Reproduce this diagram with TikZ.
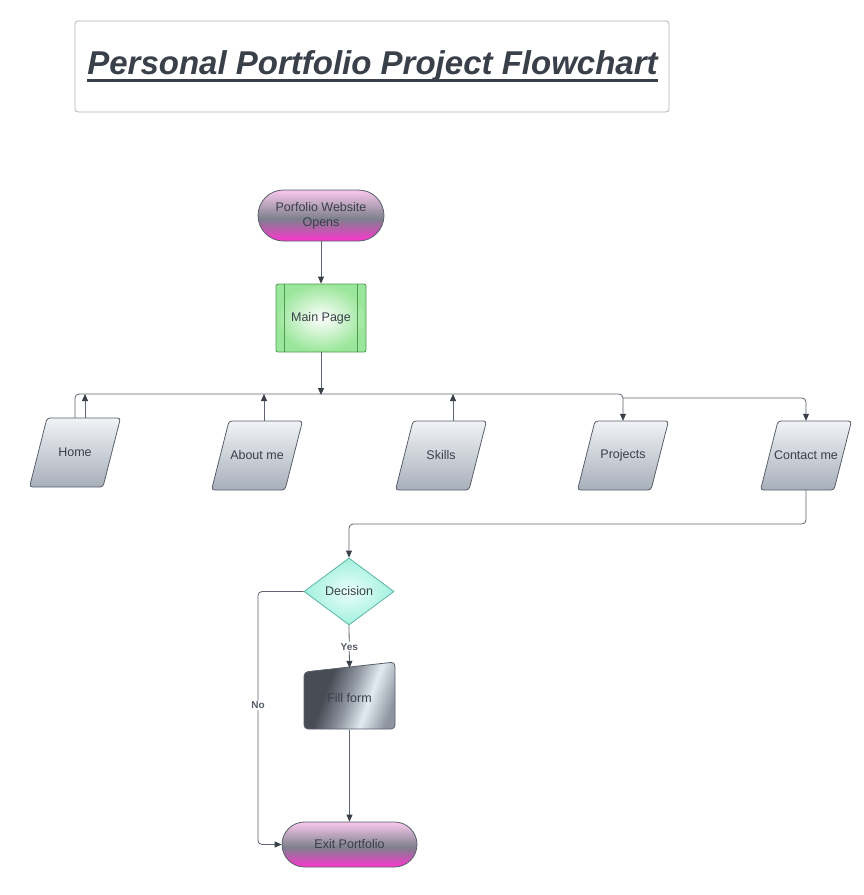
\documentclass[tikz,border=0pt]{standalone}
\usepackage{fontspec}
\setmainfont{Liberation Sans}
\usetikzlibrary{arrows.meta,shapes.geometric}
\definecolor{txt}{HTML}{3A4049}
\definecolor{lnc}{HTML}{5E6571}
\definecolor{pT}{HTML}{F2C4E8}
\definecolor{pM}{HTML}{7D808C}
\definecolor{pB}{HTML}{F03DC8}
\definecolor{mA}{HTML}{474C55}
\definecolor{mB}{HTML}{9097A0}
\definecolor{mC}{HTML}{E2EAF2}
\definecolor{mD}{HTML}{8E959E}
\definecolor{gOut}{HTML}{9AE69A}
\definecolor{gBd}{HTML}{4E9A4E}
\definecolor{cIn}{HTML}{EAFFFB}
\definecolor{cOut}{HTML}{A2F0DE}
\definecolor{cBd}{HTML}{5BB5A5}
\definecolor{parT}{HTML}{F1F3F6}
\definecolor{parB}{HTML}{A7AFBA}
\definecolor{bd}{HTML}{5A606B}
\definecolor{lblc}{HTML}{555B66}
\pgfdeclareverticalshading{pinkgrey}{100bp}{color(0bp)=(pB); color(27bp)=(pB); color(47bp)=(pM); color(73bp)=(pT); color(100bp)=(pT)}
\pgfdeclarehorizontalshading{metal}{100bp}{color(0bp)=(mA); color(36bp)=(mA); color(50bp)=(mB); color(62bp)=(mC); color(76bp)=(mD); color(100bp)=(mD)}
\newcommand\paranode[4]{%
  \shadedraw[top color=parT, bottom color=parB, draw=bd, line width=0.8pt, rounded corners=3pt]
    (#2-28,#3-34.5) -- (#2+45.5,#3-34.5) -- (#2+28,#3+34.5) -- (#2-45.5,#3+34.5) -- cycle;
  \node[minimum width=74pt, minimum height=69pt, inner sep=0] (#1) at (#2,#3) {#4};}
\begin{document}
\begin{tikzpicture}[x=1pt,y=-1pt,
  every node/.style={text=txt, font=\fontsize{12.5}{15}\selectfont},
  conn/.style={draw=lnc, line width=0.8pt},
  arr/.style={-{Triangle[length=7pt,width=6pt,color=txt]}},
  pinknode/.style={shade, shading=pinkgrey, draw=bd, line width=0.8pt, align=center, inner sep=0},
  lbl/.style={font=\fontsize{10}{11}\selectfont\bfseries, text=lblc, fill=white, inner sep=1pt}]
\useasboundingbox (0,0) rectangle (864,895);
\fill[white] (0,0) rectangle (864,895);

% title
\node[draw=gray!60, line width=0.8pt, rounded corners=3pt, minimum width=594pt, minimum height=91pt, inner sep=0] (tbox) at (372,66.5) {};
\node[font=\fontsize{33}{40}\selectfont\bfseries\itshape, anchor=base, inner sep=0] (title) at (372.5,74) {Personal Portfolio Project Flowchart};
\draw[line width=3pt, draw=txt] ([yshift=-6.5pt]title.base west) -- ([yshift=-6.5pt]title.base east);

% start and main
\node[pinknode, minimum width=126pt, minimum height=51pt, rounded corners=25.5pt] (start) at (321,215.5) {Porfolio Website\\Opens};
\node[inner color=white, outer color=gOut, draw=gBd, line width=0.8pt, rounded corners=2pt, minimum width=90pt, minimum height=68pt, inner sep=0] (main) at (321,318) {Main Page};
\draw[gBd, line width=0.8pt] ([xshift=9pt]main.north west) -- ([xshift=9pt]main.south west);
\draw[gBd, line width=0.8pt] ([xshift=-9pt]main.north east) -- ([xshift=-9pt]main.south east);

% parallelograms
\paranode{home}{75}{452.5}{Home}
\paranode{about}{257}{455.5}{About me}
\paranode{skills}{441}{455.5}{Skills}
\paranode{projects}{623}{455.5}{Projects}
\paranode{contact}{806}{455.5}{Contact me}

% decision, form, exit
\node[diamond, minimum width=90pt, minimum height=67pt, inner sep=0, inner color=cIn, outer color=cOut, draw=cBd, line width=0.8pt] (dec) at (349,591.5) {Decision};
\shadedraw[shading=metal, shading angle=-20, draw=bd, line width=0.8pt, rounded corners=4pt] (304,672) -- (395,662) -- (395,729) -- (304,729) -- cycle;
\node[minimum width=91pt, minimum height=63pt, inner sep=0] (form) at (349.5,698.5) {Fill form};
\node[pinknode, minimum width=135pt, minimum height=45pt, rounded corners=22.5pt] (exit) at (349.5,844.5) {Exit Portfolio};

% helper coordinates
\coordinate (bus) at (321,394);
\coordinate (bus2) at (700,398);
\coordinate (bus3) at (600,524);
\coordinate (noX) at (258,700);
\coordinate (homeArr) at ([xshift=10pt]home.north);
\coordinate (aboutArr) at ([xshift=7pt]about.north);
\coordinate (skillsArr) at ([xshift=12pt]skills.north);

% connectors
\draw[conn,arr] (start.south) -- (main.north);
\draw[conn,arr] (main.south) -- ([yshift=-1pt]bus);
\draw[conn,arr,rounded corners=4pt] (home.north) -- (home.north |- bus) -- (projects.north |- bus) -- (projects.north);
\draw[conn,arr] (homeArr) -- (homeArr |- bus);
\draw[conn,arr] (aboutArr) -- (aboutArr |- bus);
\draw[conn,arr] (skillsArr) -- (skillsArr |- bus);
\draw[conn,arr,rounded corners=4pt] (projects.north |- bus2) -- (contact.north |- bus2) -- (contact.north);
\draw[conn,arr,rounded corners=4pt] (contact.south) -- (contact.south |- bus3) -- (dec.north |- bus3) -- (dec.north);
\draw[conn,arr,rounded corners=4pt] (dec.west) -- (dec.west -| noX) -- node[lbl, pos=0.45] {No} (noX |- exit.west) -- (exit.west);
\draw[conn,arr] (dec.south) -- node[lbl, pos=0.5] {Yes} ([yshift=-1pt]form.north);
\draw[conn,arr] (form.south) -- (exit.north);
\end{tikzpicture}
\end{document}
